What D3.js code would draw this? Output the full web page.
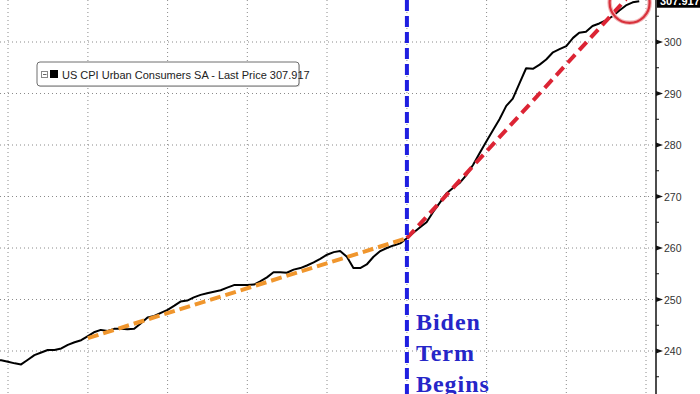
<!DOCTYPE html>
<html>
<head>
<meta charset="utf-8">
<script src="https://cdn.jsdelivr.net/npm/d3@7"></script>
<style>
  html, body { margin: 0; padding: 0; background: #fff; }
  svg { display: block; }
</style>
</head>
<body>
<div id="chart"></div>
<script>
// monthly CPI readings, first month = Nov 2015
const firstMonth = new Date(2015, 10, 1);
const cpiValues = [
    238.3, 238.2,
    237.9, 237.6, 237.4, 238.3, 239.2, 239.7, 240.2, 240.2, 240.5, 241.2, 241.7, 242.1,
    242.9, 243.7, 244.1, 243.9, 244.3, 244.3, 244.2, 244.3, 245.4, 246.5, 246.8, 247.4,
    248.0, 248.8, 249.6, 249.8, 250.4, 250.9, 251.2, 251.5, 251.8, 252.3, 252.8, 252.8,
    252.8, 252.9, 253.5, 254.3, 255.3, 255.3, 255.2, 255.8, 256.1, 256.6, 257.2, 257.9,
    258.7, 259.2, 259.4, 258.3, 256.1, 256.1, 256.8, 258.3, 259.4, 260.0, 260.5, 260.9,
    261.9, 263.0, 264.0, 265.0, 267.0, 268.8, 270.6, 271.7, 272.7, 274.2, 276.2, 278.5,
    280.8, 283.0, 285.0, 287.6, 289.0, 292.0, 294.9, 294.8, 295.6, 296.6, 298.0, 298.6,
    299.2, 300.8, 301.8, 302.0, 303.1, 303.6, 304.2, 305.0, 306.1, 307.1, 307.7, 307.917
];
// trend segments
const preTrend = [{ date: new Date(2017, 0, 1), value: 242.5 }, { date: new Date(2021, 0, 1), value: 261.9 }];
const postTrend = [{ date: new Date(2021, 0, 1), value: 261.9 }, { date: new Date(2023, 9, 1), value: 308.3 }];
const termStart = new Date(2021, 0, 1);
const yTicks = [240, 250, 260, 270, 280, 290, 300, 310];
const yMinorTicks = [235, 245, 255, 265, 275, 285, 295, 305];
const gridYears = [2016, 2017, 2018, 2019, 2020, 2021, 2022, 2023, 2024];
const legendLabel = "US CPI Urban Consumers SA - Last Price 307.917";
const lastLabel = "307.917";
const noteLines = ["Biden", "Term", "Begins"];
const circleAt = { date: new Date(2023, 9, 18), value: 307.6 };

const width = 700;
const height = 394;
const axisX = 656;

const months = d3.timeMonth.range(firstMonth, d3.timeMonth.offset(firstMonth, cpiValues.length));
const series = months.map((d, i) => ({ date: d, value: cpiValues[i] }));

const x = d3.scaleTime()
    .domain([new Date(2016, 0, 1), new Date(2024, 0, 1)])
    .range([8, 646]);
const y = d3.scaleLinear()
    .domain([240, 300])
    .range([351, 42]);

const svg = d3.select("#chart")
    .append("svg")
    .attr("width", width)
    .attr("height", height)
    .style("font-family", "'Liberation Sans', Arial, sans-serif");

// grid
const grid = svg.append("g").attr("class", "grid");
grid.selectAll(".gx")
    .data(gridYears)
    .enter()
    .append("line")
    .attr("x1", d => x(new Date(d, 0, 1)))
    .attr("x2", d => x(new Date(d, 0, 1)))
    .attr("y1", 0)
    .attr("y2", height)
    .style("stroke", "#8a8a8a")
    .style("stroke-dasharray", "1,3");
grid.selectAll(".gy")
    .data(yTicks)
    .enter()
    .append("line")
    .attr("x1", 0)
    .attr("x2", axisX)
    .attr("y1", d => y(d))
    .attr("y2", d => y(d))
    .style("stroke", "#8a8a8a")
    .style("stroke-dasharray", "1,3");

// axis on the right
const axis = svg.append("g").attr("class", "axis");
axis.append("line")
    .attr("x1", axisX).attr("x2", axisX)
    .attr("y1", 0).attr("y2", height)
    .style("stroke", "#111")
    .style("stroke-width", 1.5);
axis.selectAll(".minor")
    .data(yMinorTicks)
    .enter()
    .append("line")
    .attr("x1", axisX).attr("x2", axisX + 3)
    .attr("y1", d => y(d)).attr("y2", d => y(d))
    .style("stroke", "#111");
axis.selectAll(".major")
    .data(yTicks)
    .enter()
    .append("path")
    .attr("d", d => "M" + axisX + "," + (y(d) - 2.5) + "L" + (axisX + 7) + "," + y(d) + "L" + axisX + "," + (y(d) + 2.5) + "Z")
    .style("fill", "#111");
axis.selectAll(".lab")
    .data(yTicks)
    .enter()
    .append("text")
    .attr("x", axisX + 8)
    .attr("y", d => y(d) + 4)
    .attr("font-size", "10.5px")
    .style("fill", "#333")
    .text(d => d);

// series
const line = d3.line()
    .x(d => x(d.date))
    .y(d => y(d.value));

svg.append("path")
    .attr("d", line(series))
    .attr("fill", "none")
    .attr("stroke", "#000")
    .attr("stroke-width", 2)
    .attr("stroke-linejoin", "round");

svg.append("path")
    .attr("d", line(preTrend))
    .attr("fill", "none")
    .attr("stroke", "#f0962d")
    .attr("stroke-width", 4)
    .attr("stroke-dasharray", "11,5");

svg.append("path")
    .attr("d", line(postTrend))
    .attr("fill", "none")
    .attr("stroke", "#dc2434")
    .attr("stroke-width", 4)
    .attr("stroke-dasharray", "11,6");

svg.append("line")
    .attr("x1", x(termStart)).attr("x2", x(termStart))
    .attr("y1", 0).attr("y2", height)
    .attr("stroke", "#1f1fe0")
    .attr("stroke-width", 4)
    .attr("stroke-dasharray", "11,5");

// note
svg.selectAll(".note")
    .data(noteLines)
    .enter()
    .append("text")
    .attr("x", x(termStart) + 9)
    .attr("y", (d, i) => 330 + i * 31)
    .attr("font-family", "'Liberation Serif', 'Times New Roman', serif")
    .attr("font-size", "24px")
    .attr("font-weight", "bold")
    .attr("letter-spacing", "1px")
    .style("fill", "#2626c8")
    .text(d => d);

// highlight circle
svg.append("circle")
    .attr("cx", x(circleAt.date))
    .attr("cy", y(circleAt.value))
    .attr("r", 20)
    .attr("fill", "none")
    .attr("stroke", "#f2b5b8")
    .attr("stroke-width", 4.5);
svg.append("circle")
    .attr("cx", x(circleAt.date))
    .attr("cy", y(circleAt.value))
    .attr("r", 20)
    .attr("fill", "none")
    .attr("stroke", "#d8323c")
    .attr("stroke-width", 2.2);

// last price tag
const lastY = y(cpiValues[cpiValues.length - 1]);
svg.append("rect")
    .attr("x", axisX + 1)
    .attr("y", lastY - 6.5)
    .attr("width", width - axisX)
    .attr("height", 13)
    .style("fill", "#000");
svg.append("text")
    .attr("x", axisX + 4)
    .attr("y", lastY + 4)
    .attr("font-size", "11px")
    .attr("font-weight", "bold")
    .style("fill", "#fff")
    .text(lastLabel);

// legend
const legend = svg.append("g").attr("transform", "translate(37,62)");
legend.append("rect")
    .attr("x", 1).attr("y", 1)
    .attr("width", 262).attr("height", 24)
    .attr("rx", 3)
    .style("fill", "#d8d8d8");
legend.append("rect")
    .attr("width", 262).attr("height", 24)
    .attr("rx", 3)
    .style("fill", "#fff")
    .style("stroke", "#6e6e6e");
legend.append("rect")
    .attr("x", 4.5).attr("y", 9.5)
    .attr("width", 6).attr("height", 6)
    .style("fill", "#fff")
    .style("stroke", "#888");
legend.append("line")
    .attr("x1", 6).attr("x2", 9.5)
    .attr("y1", 12.5).attr("y2", 12.5)
    .style("stroke", "#666");
legend.append("rect")
    .attr("x", 13).attr("y", 8)
    .attr("width", 8).attr("height", 8)
    .style("fill", "#000");
legend.append("text")
    .attr("x", 25)
    .attr("y", 16.5)
    .attr("font-size", "11px")
    .style("fill", "#222")
    .text(legendLabel);
</script>
</body>
</html>
